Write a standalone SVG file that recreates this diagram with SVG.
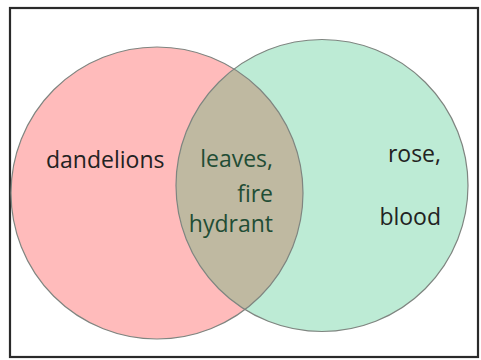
<svg xmlns="http://www.w3.org/2000/svg" width="481" height="360" viewBox="0 0 481 360">
  <style>
    .set { stroke: #7f8580; stroke-width: 1.2; }
    .lbl { font-family: "Open Sans", "Noto Sans", "Liberation Sans", sans-serif; font-size: 23px; fill: #222; }
    .mid { fill: #1f4d35; text-anchor: end; }
  </style>
  <defs>
    <clipPath id="leftClip">
      <circle cx="157" cy="193" r="146"/>
    </clipPath>
  </defs>
  <rect x="0" y="0" width="481" height="360" fill="#ffffff"/>
  <rect x="10" y="8" width="468" height="349" fill="none" stroke="#2a2a2a" stroke-width="2.2"/>

  <g id="set-a">
    <circle cx="157" cy="193" r="146" fill="#ffbbbb"/>
  </g>
  <g id="set-b">
    <circle cx="322" cy="185.5" r="146" fill="#bdebd5"/>
  </g>
  <g id="overlap">
    <circle cx="322" cy="185.5" r="146" fill="#bfb9a1" clip-path="url(#leftClip)"/>
  </g>
  <g id="outlines" fill="none">
    <circle class="set" cx="157" cy="193" r="146"/>
    <circle class="set" cx="322" cy="185.5" r="146"/>
  </g>

  <text class="lbl" x="46" y="168">dandelions</text>
  <text class="lbl mid" x="273" y="167">leaves,</text>
  <text class="lbl mid" x="273" y="202">fire</text>
  <text class="lbl mid" x="273" y="232">hydrant</text>
  <text class="lbl" x="441" y="162" text-anchor="end">rose,</text>
  <text class="lbl" x="441" y="225" text-anchor="end">blood</text>
</svg>
